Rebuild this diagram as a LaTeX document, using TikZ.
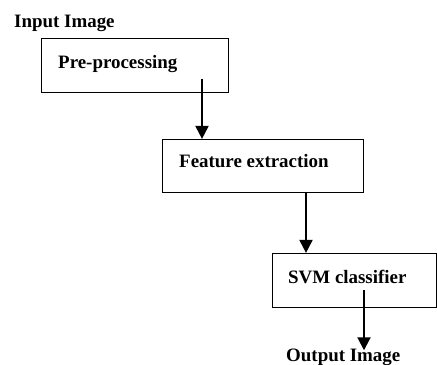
\documentclass[tikz,border=0pt]{standalone}
\usepackage{fontspec}
\setmainfont{Liberation Serif}
\usetikzlibrary{arrows.meta}
\begin{document}
\begin{tikzpicture}[x=1bp,y=1bp,
  stagebox/.style={draw=black,line width=1.1bp,inner sep=0pt,anchor=south west},
  caption/.style={inner sep=0pt,anchor=base west,font=\fontsize{19}{22}\selectfont\bfseries},
  flow/.style={line width=2bp,-{Triangle[width=13bp,length=13bp]}}]
\useasboundingbox (0,0) rectangle (437,364);
% processing stages
\node[stagebox,minimum width=187bp,minimum height=54bp] (pre) at (41,271) {};
\node[stagebox,minimum width=201bp,minimum height=53bp] (feat) at (162,171) {};
\node[stagebox,minimum width=164bp,minimum height=54bp] (svm) at (272,56) {};
% texts
\node[caption] (input) at (14,337) {Input Image};
\node[caption] (pretxt) at (58,296) {Pre-processing};
\node[caption] (feattxt) at (179,197) {Feature extraction};
\node[caption] (svmtxt) at (288,81) {SVM classifier};
\node[caption] (output) at (286,3) {Output Image};
% arrow start points inside the stages
\coordinate (s1) at (202,285);
\coordinate (s3) at (364,74);
% connectors
\draw[flow] (s1) -- (s1 |- feat.north);
\draw[flow] (feat.south -| 306,0) -- (svm.north -| 306,0);
\draw[flow] (s3) -- ([yshift=-2bp]s3 |- output.north);
\end{tikzpicture}
\end{document}
